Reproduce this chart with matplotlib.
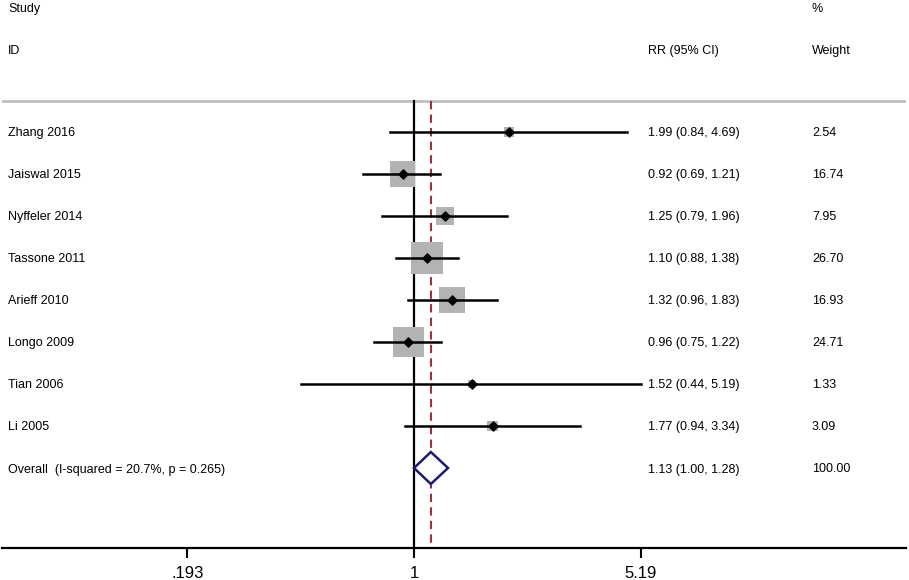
import numpy as np
import matplotlib
matplotlib.use("Agg")
import matplotlib.pyplot as plt
from matplotlib.transforms import blended_transform_factory

plt.rcParams['font.family'] = ['Liberation Sans', 'DejaVu Sans']

studies = ["Zhang 2016", "Jaiswal 2015", "Nyffeler 2014", "Tassone 2011",
           "Arieff 2010", "Longo 2009", "Tian 2006", "Li 2005"]
rr = [1.99, 0.92, 1.25, 1.10, 1.32, 0.96, 1.52, 1.77]
lo = [0.84, 0.69, 0.79, 0.88, 0.96, 0.75, 0.44, 0.94]
hi = [4.69, 1.21, 1.96, 1.38, 1.83, 1.22, 5.19, 3.34]
weight = [2.54, 16.74, 7.95, 26.70, 16.93, 24.71, 1.33, 3.09]

overall_label = "Overall  (I-squared = 20.7%, p = 0.265)"
overall_rr, overall_lo, overall_hi = 1.13, 1.00, 1.28
overall_weight = 100.00

tick_vals = [0.193, 1, 5.19]
tick_labels = [".193", "1", "5.19"]

W, H = 909, 580
fig = plt.figure(figsize=(W / 100, H / 100), dpi=100)
ax = fig.add_axes([2 / W, (H - 548) / H, 904 / W, 548 / H])
ax.set_xscale('log')
scale = 137.8  # px per ln unit
ax.set_xlim(np.exp((2 - 414) / scale), np.exp((906 - 414) / scale))
row_px = 42.0
y_of = lambda px: (px - 132) / row_px
ax.set_ylim(y_of(548), y_of(0))

for s in ['top', 'right', 'left']:
    ax.spines[s].set_visible(False)
ax.spines['bottom'].set_linewidth(1.6)
ax.set_yticks([])
ax.set_xticks(tick_vals)
ax.set_xticklabels(tick_labels, fontsize=12)
ax.minorticks_off()
ax.tick_params(axis='x', length=7, width=1.5, pad=6)

sep = y_of(101)
ax.axhline(sep, color='#c0c0c0', lw=2)
ax.plot([1, 1], [sep, y_of(548)], color='black', lw=1.6)
ax.plot([overall_rr, overall_rr], [sep, y_of(548)], color='#a0303a', lw=1.5,
        ls=(0, (4, 2.5)))

rows = np.arange(len(studies))
ax.scatter(rr, rows, marker='s', s=np.array(weight) * 20, color='#b3b3b3',
           zorder=3, linewidths=0)
for i in rows:
    ax.plot([lo[i], hi[i]], [i, i], color='black', lw=1.8, zorder=4)
ax.scatter(rr, rows, marker='D', s=22, color='black', zorder=5)

oy = len(studies)
dh = 16 / row_px
ax.fill([overall_lo, overall_rr, overall_hi, overall_rr],
        [oy, oy - dh, oy, oy + dh], facecolor='white', edgecolor='#1a1a6e',
        lw=1.8, zorder=5)

tr = blended_transform_factory(fig.transFigure, ax.transData)
fs = 9
dy = 1.5 / row_px  # text sits a touch lower than the marks
ax.text(8 / W, y_of(9), "Study", transform=tr, fontsize=fs, va='center')
ax.text(8 / W, y_of(51), "ID", transform=tr, fontsize=fs, va='center')
ax.text(648 / W, y_of(51), "RR (95% CI)", transform=tr, fontsize=fs, va='center')
ax.text(812 / W, y_of(9), "%", transform=tr, fontsize=fs, va='center')
ax.text(812 / W, y_of(51), "Weight", transform=tr, fontsize=fs, va='center')

for i in rows:
    ax.text(8 / W, i + dy, studies[i], transform=tr, fontsize=fs, va='center')
    ax.text(648 / W, i + dy, "%.2f (%.2f, %.2f)" % (rr[i], lo[i], hi[i]),
            transform=tr, fontsize=fs, va='center')
    ax.text(812 / W, i + dy, "%.2f" % weight[i], transform=tr, fontsize=fs, va='center')

ax.text(8 / W, oy + dy, overall_label, transform=tr, fontsize=fs, va='center')
ax.text(648 / W, oy + dy, "%.2f (%.2f, %.2f)" % (overall_rr, overall_lo, overall_hi),
        transform=tr, fontsize=fs, va='center')
ax.text(812 / W, oy + dy, "%.2f" % overall_weight, transform=tr, fontsize=fs, va='center')

fig.savefig("out.png", dpi=100)
